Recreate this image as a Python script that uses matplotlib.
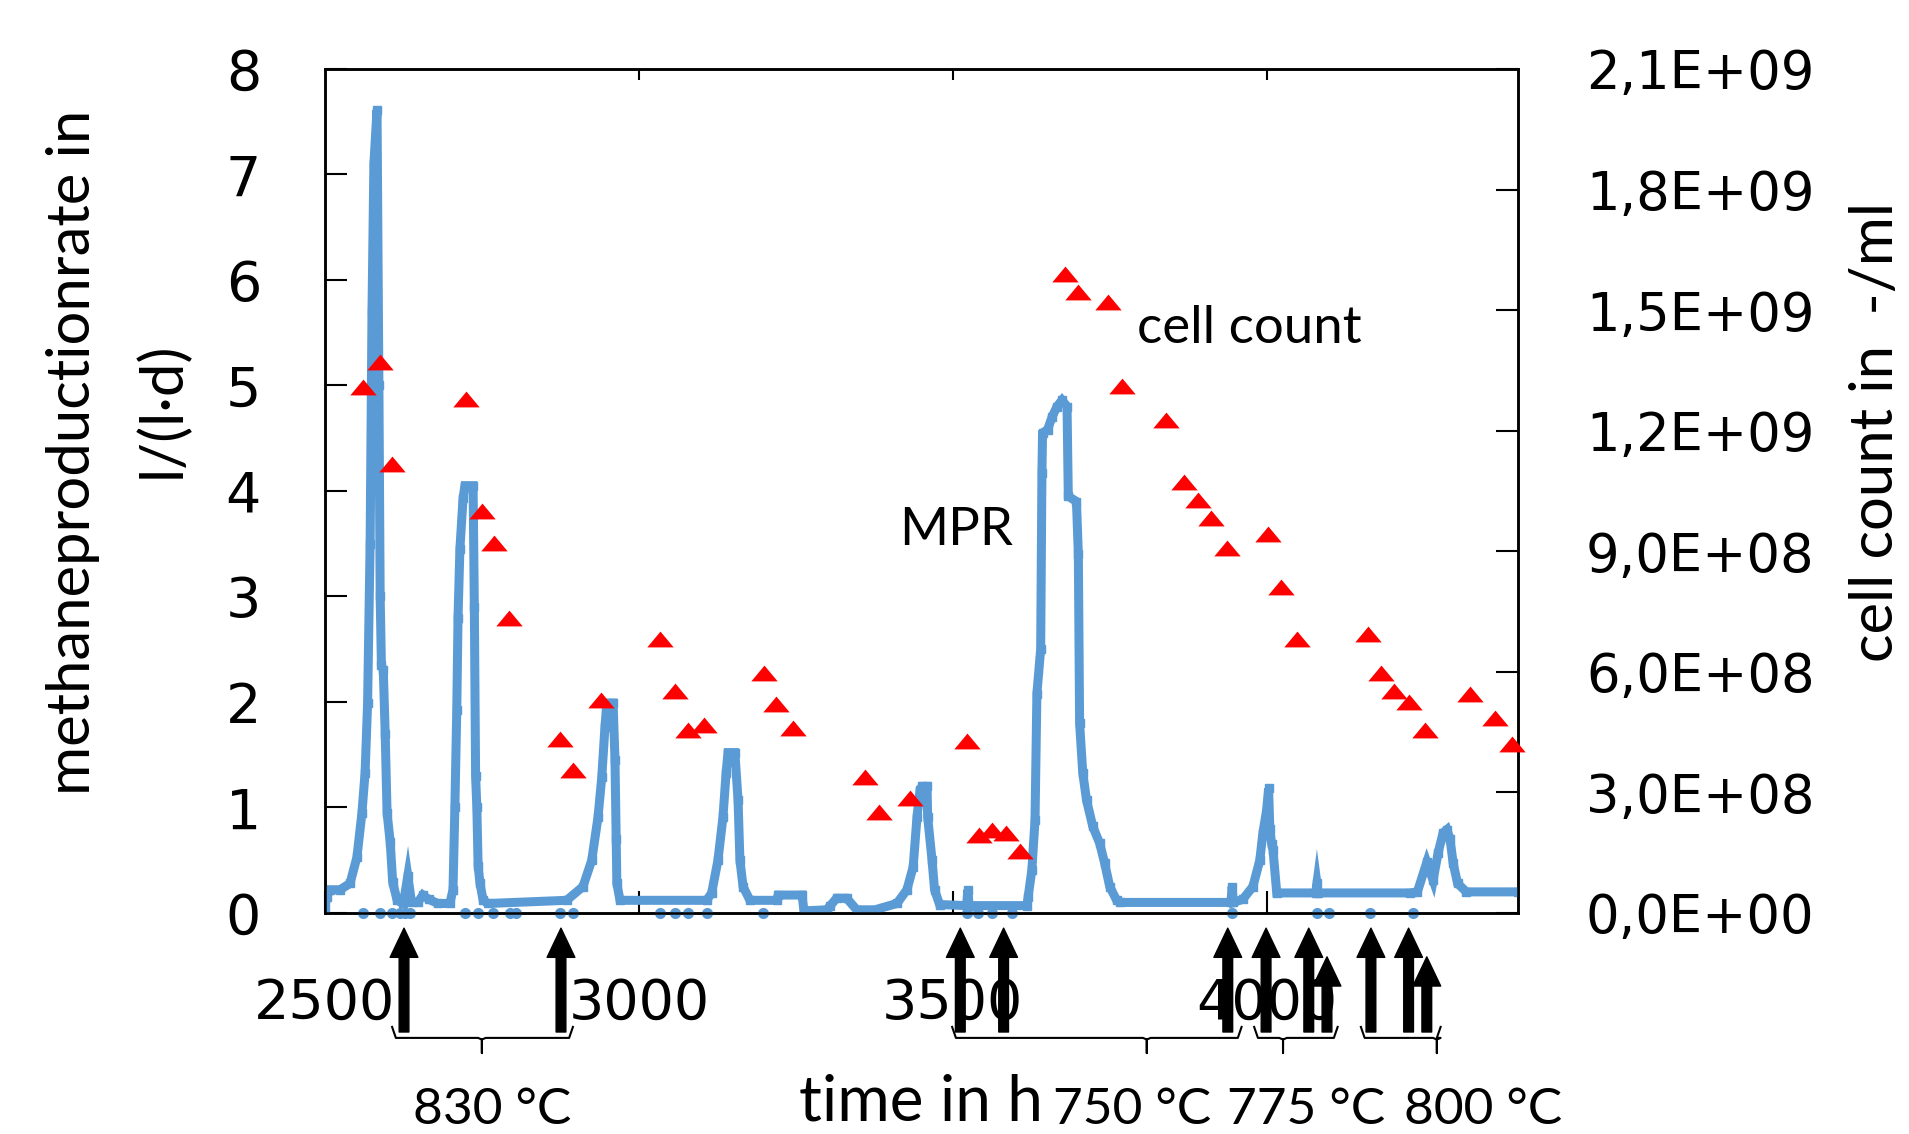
import numpy as np
import matplotlib.pyplot as plt
from matplotlib.ticker import FuncFormatter

# methane production rate (MPR) in l/(l*d) over time in h
mpr_hours = [2500, 2503, 2508, 2524, 2540, 2551, 2559, 2564, 2568, 2572, 2575, 2578, 2583,
             2586, 2588, 2590, 2593, 2596, 2599, 2604, 2608, 2615, 2625, 2632, 2638, 2648,
             2656, 2665, 2680, 2699, 2704, 2707, 2710, 2712, 2715, 2720, 2723, 2736, 2738,
             2740, 2742, 2744, 2747, 2752, 2760, 2885, 2911, 2925, 2935, 2941, 2946, 2949,
             2959, 2962, 2964, 2965, 2970, 3108, 3116, 3126, 3134, 3139, 3142, 3153, 3158,
             3161, 3166, 3177, 3220, 3222, 3260, 3263, 3299, 3305, 3315, 3331, 3347, 3376,
             3411, 3427, 3437, 3443, 3448, 3451, 3459, 3460, 3467, 3471, 3479, 3522, 3524,
             3526, 3618, 3620, 3626, 3631, 3634, 3640, 3642, 3643, 3651, 3658, 3666, 3674,
             3682, 3684, 3697, 3700, 3702, 3707, 3713, 3723, 3734, 3742, 3750, 3761, 3766,
             3943, 3945, 3947, 3962, 3978, 3989, 3994, 4000, 4003, 4005, 4008, 4010, 4016,
             4078, 4080, 4082, 4228, 4240, 4255, 4265, 4273, 4281, 4287, 4292, 4297, 4304,
             4318, 4400]
mpr_rate = [0.05, 0.15, 0.22, 0.22, 0.28, 0.53, 0.95, 1.33, 1.99, 3.5, 5.7, 7.1, 7.61,
            5.0, 3.0, 2.35, 2.3, 1.7, 0.95, 0.67, 0.29, 0.12, 0.09, 0.35, 0.1, 0.1,
            0.17, 0.13, 0.09, 0.09, 0.22, 1.0, 1.92, 2.8, 3.45, 3.93, 4.05, 4.05, 2.9,
            1.3, 1.0, 0.45, 0.28, 0.12, 0.09, 0.12, 0.25, 0.5, 0.91, 1.29, 1.76, 1.99,
            1.99, 1.45, 0.7, 0.28, 0.12, 0.12, 0.19, 0.5, 0.91, 1.33, 1.52, 1.52, 1.07,
            0.5, 0.25, 0.12, 0.12, 0.17, 0.17, 0.02, 0.03, 0.07, 0.14, 0.14, 0.03, 0.03,
            0.09, 0.22, 0.44, 0.91, 1.17, 1.2, 1.2, 0.91, 0.5, 0.22, 0.08, 0.07, 0.22,
            0.07, 0.07, 0.15, 0.41, 0.88, 2.08, 2.5, 4.17, 4.55, 4.58, 4.7, 4.8, 4.86,
            4.8, 3.95, 3.9, 3.4, 1.8, 1.33, 1.07, 0.82, 0.66, 0.47, 0.25, 0.12, 0.1,
            0.1, 0.25, 0.1, 0.13, 0.25, 0.5, 0.76, 0.98, 1.18, 0.8, 0.65, 0.6, 0.19,
            0.19, 0.28, 0.19, 0.19, 0.2, 0.48, 0.31, 0.57, 0.76, 0.79, 0.7, 0.47, 0.28,
            0.2, 0.2]

# single zero readings of the gas meter (sampling)
mpr_zero_hours = [2560, 2588, 2607, 2620, 2627, 2635, 2723, 2744, 2768, 2795, 2805, 2874,
                  2895, 3034, 3058, 3079, 3108, 3197, 3522, 3540, 3562, 3594, 3944, 4080,
                  4100, 4164, 4233]

# cell count in cells/ml
cell_hours = [2560, 2587, 2607, 2725, 2750, 2769, 2793, 2874, 2895, 2940, 3033, 3058, 3079,
              3103, 3200, 3219, 3246, 3360, 3382, 3432, 3523, 3541, 3562, 3585, 3607, 3678,
              3700, 3748, 3769, 3839, 3868, 3890, 3911, 3936, 4002, 4023, 4048, 4161, 4182,
              4203, 4227, 4252, 4324, 4364, 4390]
cell_count = [1.309e9, 1.370e9, 1.118e9, 1.279e9, 1.000e9, 0.921e9, 0.733e9, 0.433e9,
              0.355e9, 0.530e9, 0.682e9, 0.552e9, 0.455e9, 0.467e9, 0.597e9, 0.521e9,
              0.461e9, 0.339e9, 0.252e9, 0.285e9, 0.427e9, 0.194e9, 0.206e9, 0.200e9,
              0.155e9, 1.591e9, 1.545e9, 1.521e9, 1.312e9, 1.227e9, 1.073e9, 1.027e9,
              0.982e9, 0.909e9, 0.942e9, 0.812e9, 0.682e9, 0.694e9, 0.597e9, 0.552e9,
              0.524e9, 0.455e9, 0.545e9, 0.485e9, 0.421e9]

# events (arrows) and temperature phases (braces)
arrow_hours = [2626, 2876, 3512, 3581, 3938, 3999, 4067, 4166, 4226]
arrow_hours_short = [4096, 4255]
phase_start = [2607, 3499, 3980, 4150]
phase_end = [2895, 3960, 4113, 4277]
phase_mid = [2750, 3809, 4026, 4271]
phase_label_x = [2766, 3785, 4062, 4344]
phase_labels = ['830 °C', '750 °C', '775 °C', '800 °C']

blue = '#5B9BD5'
label_font = ['Lato', 'DejaVu Sans']

fig = plt.figure(figsize=(19.09, 11.34), dpi=100)
ax = fig.add_axes([0.1702, 0.1949, 0.6249, 0.7443])

ax.plot(mpr_hours, mpr_rate, color=blue, lw=6.5, marker='s', ms=6,
        solid_joinstyle='miter', zorder=3)
ax.plot(mpr_zero_hours, np.zeros(len(mpr_zero_hours)), ls='none', marker='o', ms=7,
        color=blue, clip_on=False, zorder=3)

ax.set_xlim(2500, 4400)
ax.set_ylim(0, 8)
ax.set_xticks([2500, 3000, 3500, 4000])
ax.set_yticks(range(9))
ax.tick_params(direction='in', length=16, width=1.5, labelsize=40, pad=46)
for s in ax.spines.values():
    s.set_linewidth(1.8)

top = ax.secondary_xaxis('top')
top.set_xticks([3000, 3500, 4000])
top.tick_params(direction='in', length=8, width=1.5, labeltop=False)

ax2 = ax.twinx()
ax2.set_ylim(0, 2.1e9)
ax2.set_yticks(np.arange(0, 2.2e9, 3e8))
ax2.yaxis.set_major_formatter(FuncFormatter(lambda v, p: f'{v:.1E}'.replace('.', ',')))
ax2.tick_params(direction='in', length=16, width=1.5, labelsize=38, pad=49)
for s in ax2.spines.values():
    s.set_linewidth(1.8)
tri = [(-1, -0.6), (1, -0.6), (0, 0.6)]
ax2.plot(cell_hours, cell_count, ls='none', marker=tri, ms=19, color='#FF0000',
         mec='none', clip_on=False, zorder=4)

# arrows under the time axis
xt = ax.get_xaxis_transform()
for h in arrow_hours + arrow_hours_short:
    tip = -0.018 if h in arrow_hours else -0.052
    ax.annotate('', xy=(h, tip), xytext=(h, -0.141), xycoords=xt, textcoords=xt,
                annotation_clip=False, zorder=5,
                arrowprops=dict(arrowstyle='simple,head_length=21,head_width=20,tail_width=7',
                                mutation_scale=1, color='black', shrinkA=0, shrinkB=0))

# braces for the temperature phases
for x0, x1, xm in zip(phase_start, phase_end, phase_mid):
    d = 6
    bx = [x0, x0 + d, xm - d, xm, xm, xm, xm + d, x1 - d, x1]
    by = [-0.135, -0.148, -0.148, -0.150, -0.166, -0.150, -0.148, -0.148, -0.135]
    ax.plot(bx, by, color='black', lw=1.5, transform=xt, clip_on=False)

for x, t in zip(phase_label_x, phase_labels):
    ax.text(x, -0.233, t, transform=xt, ha='center', va='center', fontsize=37,
            family=label_font)

ax.text(3505, 3.63, 'MPR', ha='center', va='center', fontsize=38, family=label_font)
ax.text(3973, 5.54, 'cell count', ha='center', va='center', fontsize=38, family=label_font)

ax.set_xlabel('time in h', fontsize=46, family=label_font)
ax.xaxis.set_label_coords(0.5, -0.224)
ax.xaxis.label.set_va('center')

fig.text(73 / 1909, 1 - 452 / 1134, 'methaneproductionrate in', rotation=90,
         ha='center', va='center', fontsize=43, family=label_font)
fig.text(162 / 1909, 1 - 410 / 1134, 'l/(l·d)', rotation=90,
         ha='center', va='center', fontsize=43, family=label_font)
fig.text(1876 / 1909, 1 - 432 / 1134, 'cell count in  -/ml', rotation=90,
         ha='center', va='center', fontsize=43, family=label_font)

fig.savefig('out.png', dpi=100)
